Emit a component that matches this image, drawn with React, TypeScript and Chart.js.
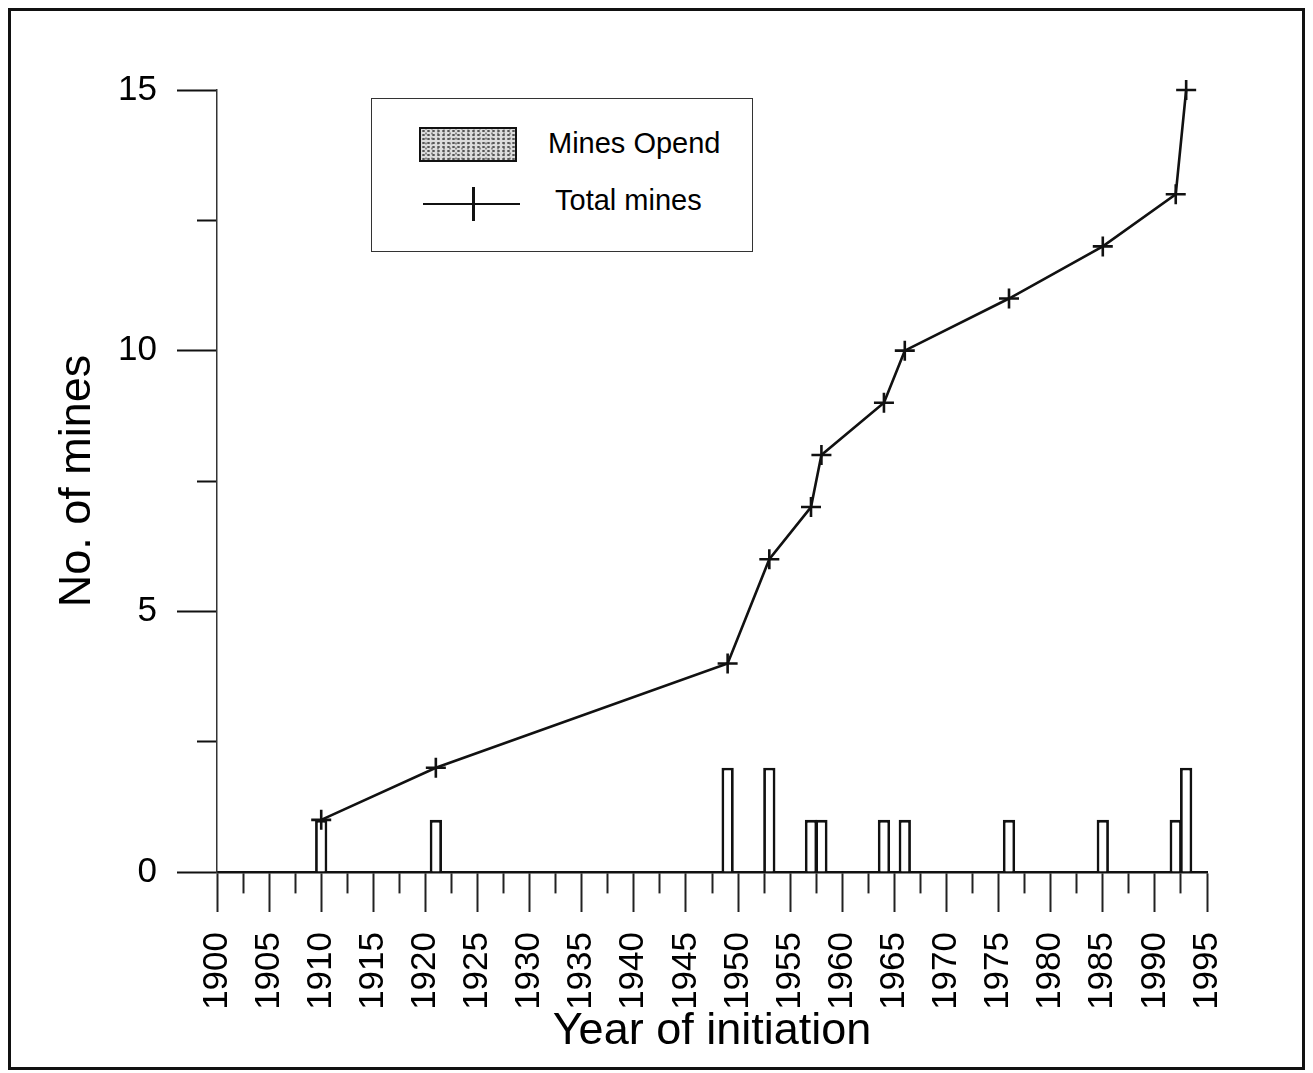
import React, { useEffect, useRef } from 'react';
import { Chart, registerables } from 'chart.js';

Chart.register(...registerables);

// Data
const years = [1910, 1921, 1949, 1953, 1957, 1958, 1964, 1966, 1976, 1985, 1992, 1993];
const minesOpened = [1, 1, 2, 2, 1, 1, 1, 1, 1, 1, 1, 2];
const totalMines = [1, 2, 4, 6, 7, 8, 9, 10, 11, 12, 13, 15];

const xMin = 1900;
const xMax = 1995;
const xStep = 2.5;
const xLabelEvery = 5;
const yMin = 0;
const yMax = 15;
const yStep = 2.5;
const yLabelEvery = 5;

const barLabel = 'Mines Opend';
const lineLabel = 'Total mines';
const xTitle = 'Year of initiation';
const yTitle = 'No. of mines';

const FONT = "'Liberation Sans', Arial, Helvetica, sans-serif";

export default function App() {
  const canvasRef = useRef<HTMLCanvasElement | null>(null);

  useEffect(() => {
    const canvas = canvasRef.current;
    if (!canvas) return;
    Chart.defaults.font.family = FONT;
    Chart.defaults.color = '#000';

    const chart = new Chart(canvas, {
      type: 'bar',
      data: {
        datasets: [
          {
            type: 'line',
            label: lineLabel,
            data: years.map((x, i) => ({ x, y: totalMines[i] })),
            borderColor: '#111',
            borderWidth: 2.6,
            pointStyle: 'cross',
            pointRadius: 10,
            pointBorderWidth: 2.6,
            pointBorderColor: '#111',
            tension: 0,
            fill: false,
            clip: false,
            order: 0,
          } as any,
          {
            type: 'bar',
            label: barLabel,
            data: years.map((x, i) => ({ x, y: minesOpened[i] })),
            backgroundColor: '#fff',
            borderColor: '#111',
            borderWidth: 2.8,
            barPercentage: 1.18,
            categoryPercentage: 1,
            clip: false,
            order: 1,
          } as any,
        ],
      },
      options: {
        responsive: false,
        animation: false,
        layout: { padding: { left: 0, top: 79, right: 95, bottom: 0 } },
        plugins: {
          legend: { display: false },
          tooltip: { enabled: false },
        },
        scales: {
          x: {
            type: 'linear',
            min: xMin,
            max: xMax,
            offset: false,
            afterFit: (scale: any) => {
              scale.height = 195;
            },
            grid: {
              drawOnChartArea: false,
              offset: false,
              tickLength: 40,
              tickWidth: 2,
              tickColor: '#222',
              tickBorderDash: (ctx: any) =>
                ctx.tick && ctx.tick.value % xLabelEvery === 0 ? [] : [20, 200],
            } as any,
            border: { color: '#111', width: 2.4 },
            ticks: {
              stepSize: xStep,
              autoSkip: false,
              minRotation: 90,
              maxRotation: 90,
              padding: 20,
              color: '#000',
              font: { size: 35, family: FONT },
              callback: (v: any) => (Number(v) % xLabelEvery === 0 ? String(v) : ''),
            },
            title: {
              display: true,
              text: xTitle,
              color: '#000',
              font: { size: 45, family: FONT },
              padding: { top: 0, bottom: 8 },
            },
          },
          y: {
            type: 'linear',
            min: yMin,
            max: yMax,
            afterFit: (scale: any) => {
              scale.width = 206;
            },
            grid: {
              drawOnChartArea: false,
              tickLength: 40,
              tickWidth: 2.2,
              tickColor: '#111',
              tickBorderDash: (ctx: any) =>
                ctx.tick && ctx.tick.value % yLabelEvery === 0 ? [] : [0, 20, 20],
            } as any,
            border: { color: '#333', width: 1.5, dash: [6, 2] },
            ticks: {
              stepSize: yStep,
              padding: 20,
              color: '#000',
              font: { size: 35, family: FONT },
              callback: (v: any) => (Number(v) % yLabelEvery === 0 ? String(v) : ''),
            },
            title: {
              display: true,
              text: yTitle,
              color: '#000',
              font: { size: 45, family: FONT },
              padding: { top: 40, bottom: 0 },
            },
          },
        },
      },
    });
    return () => chart.destroy();
  }, []);

  const textStyle: React.CSSProperties = {
    position: 'absolute',
    fontFamily: FONT,
    fontSize: 29,
    lineHeight: '29px',
    color: '#000',
    whiteSpace: 'nowrap',
  };

  return (
    <div
      style={{
        position: 'relative',
        width: 1297,
        height: 1062,
        border: '3px solid #111',
        boxSizing: 'border-box',
        background: '#fff',
      }}
    >
      <canvas ref={canvasRef} width={1291} height={1056} style={{ display: 'block' }} />
      <div
        style={{
          position: 'absolute',
          left: 360,
          top: 87,
          width: 382,
          height: 154,
          border: '1.5px solid #333',
          boxSizing: 'border-box',
          background: '#fff',
        }}
      >
        <div
          style={{
            position: 'absolute',
            left: 47,
            top: 28,
            width: 98,
            height: 35,
            border: '2.5px solid #111',
            boxSizing: 'border-box',
            background:
              'radial-gradient(circle, #555 1px, transparent 1.4px) 0 0 / 5px 4px, radial-gradient(circle, #888 0.9px, transparent 1.3px) 2px 2px / 6px 5px, #dcdcdc',
          }}
        />
        <div style={{ ...textStyle, left: 176, top: 30 }}>{barLabel}</div>
        <div
          style={{
            position: 'absolute',
            left: 51,
            top: 104,
            width: 97,
            height: 2,
            background: '#111',
          }}
        />
        <div
          style={{
            position: 'absolute',
            left: 100,
            top: 88,
            width: 2.5,
            height: 34,
            background: '#111',
          }}
        />
        <div style={{ ...textStyle, left: 183, top: 87 }}>{lineLabel}</div>
      </div>
    </div>
  );
}
